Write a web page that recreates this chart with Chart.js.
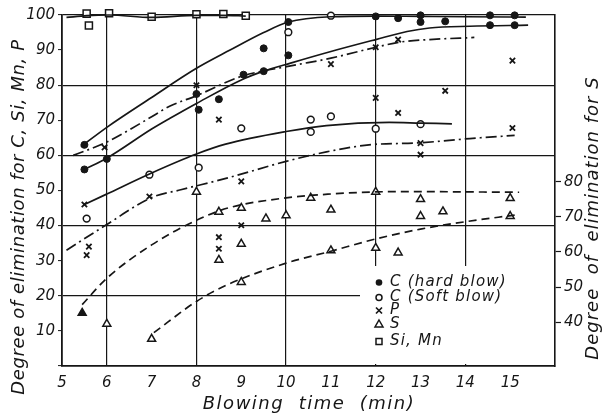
<!DOCTYPE html>
<html><head><meta charset="utf-8">
<script src="https://cdn.jsdelivr.net/npm/chart.js@4/dist/chart.umd.min.js"></script>
<style>html,body{margin:0;padding:0;background:#fff;}</style>
</head><body>
<canvas id="c" width="607" height="416"></canvas>
<script>
// ---- tick labels / grid ----
const xTickLabels = [5,6,7,8,9,10,11,12,13,14,15];
const leftTickLabels = [10,20,30,40,50,60,70,80,90,100];
const rightTickLabels = [40,50,60,70,80];
const xGridAt = [6,8,10,12,14];
const yGridAt = [20,40,60,80,100];

// ---- measured points: [blowing time (min), degree of elimination (%)] ----
const cHardPts = [[5.5,63],[5.5,56],[6.0,59],[8.0,77.5],[8.05,73],[8.5,76],[9.05,83],[9.5,90.5],[9.5,84],[10.05,98],[10.05,88.5],[12.0,99.6],[12.5,99.1],[13.0,99.9],[13.0,98],[13.55,98.2],[14.55,99.9],[14.55,97.1],[15.1,99.9],[15.1,97.1]];
const cSoftPts = [[5.55,42],[6.95,54.5],[8.05,56.5],[9.0,67.7],[10.05,95.1],[10.55,70.2],[10.55,66.7],[11.0,71.1],[11.0,99.8],[12.0,67.6],[13.0,68.9]];
const pPts = [[5.5,46],[5.6,34],[5.55,31.6],[5.95,62.3],[6.95,48.3],[8.0,80],[8.5,70.2],[8.5,36.7],[8.5,33.4],[9.0,52.6],[9.0,40.1],[11.0,86],[12.0,90.8],[12.0,76.4],[12.5,93],[12.5,72.1],[13.0,63.5],[13.0,60.2],[13.55,78.4],[15.05,87],[15.05,67.8]];
// S is read on the right-hand axis (degree of elimination for S)
const sPts = [[5.45,42.6],[6.0,39.5],[7.0,35.2],[8.0,77.1],[8.5,71.4],[8.5,57.7],[9.0,72.5],[9.0,62.3],[9.0,51.4],[9.55,69.5],[10.0,70.4],[10.55,75.4],[11.0,72.0],[11.0,60.4],[12.0,77.1],[12.0,61.1],[12.5,59.8],[13.0,75.0],[13.0,70.2],[13.5,71.5],[15.0,75.3],[15.0,70.2]];
const sFilled = [true,false,false,false,false,false,false,false,false,false,false,false,false,false,false,false,false,false,false,false,false,false];
const siMnPts = [[5.55,100.4],[5.6,97],[6.05,100.5],[7.0,99.5],[8.0,100.2],[8.6,100.3],[9.1,99.8]];

// ---- drawn trend curves ----
const cHardUpper = [[5.42,62.5],[6,68],[7,76.5],[8,84.8],[8.75,90],[9.5,95],[10.05,98],[11,99.5],[12,99.7],[13,99.6],[14,99.5],[15.35,99.4]];
const cHardLower = [[5.5,56],[6,59.2],[7,67.5],[7.4,70.5],[8,74.8],[9,81.5],[9.5,84],[10.1,86.3],[11,89.6],[12,93],[12.7,95.3],[13.2,96.3],[14.1,96.8],[15.4,97.1]];
const cSoftCurve = [[5.5,46],[6,49],[7,55],[8,60.4],[8.65,63.2],[10,66.8],[10.9,68.5],[12.3,69.4],[13,69.2],[13.7,69]];
const pUpperCurve = [[5.25,60],[6,63.8],[7,71],[7.4,74],[8,77],[9,82.5],[10.1,85.5],[11,87.7],[12,90.8],[12.55,92.3],[13.2,93],[14.2,93.6]];
const pLowerCurve = [[5.1,33],[6,40.3],[7,48],[7.65,50.2],[8.7,53.6],[10,58.3],[10.9,61],[11.85,63],[13,63.6],[14.1,64.8],[15.1,65.7]];
const sUpperCurve = [[5.45,45],[6,52.5],[7,62],[8,69],[8.7,72.5],[10,75.4],[11,76.5],[12,77.1],[13,77.2],[14,77.1],[15.2,77]];
const sLowerCurve = [[7.05,37],[8,45.9],[8.7,50.7],[10,56.8],[11,60.2],[12,63.7],[13,66.5],[14,68.6],[15.1,70.5]];
const siMnCurve = [[5.1,99.3],[5.55,99.8],[6.05,100],[7.0,99.3],[8.0,99.9],[8.6,99.9],[9.1,99.7]];

const legendItems = ['C (hard blow)','C (Soft blow)','P','S','Si, Mn'];

const INK = '#161616';
const FONT = 'DejaVu Sans';
const toXY = a => a.map(p => ({x:p[0], y:p[1]}));

function curve(data, dash, axis){
  return {type:'scatter', data:toXY(data), showLine:true, borderColor:INK, borderWidth:1.7,
    borderDash:dash, pointRadius:0, cubicInterpolationMode:'monotone', fill:false,
    yAxisID: axis || 'y', clip:false};
}
function pts(data, style, bg, radius, bw, axis){
  return {type:'scatter', data:toXY(data), showLine:false, pointStyle:style, pointRadius:radius,
    pointBackgroundColor:bg, pointBorderColor:INK, pointBorderWidth:bw, yAxisID: axis || 'y', clip:false};
}
const DASHDOT = [11,4,2,4];
const DASH = [8,5];

const maskPlugin = {
  id:'mask',
  beforeDatasetsDraw(chart){
    const c = chart.ctx; c.save(); c.fillStyle='#fff';
    c.fillRect(360, 266, 194, 98); c.restore();
  }
};

function drawSym(c, kind, x, y){
  c.save(); c.strokeStyle=INK; c.fillStyle=INK; c.lineWidth=1.5;
  if(kind===0){ c.beginPath(); c.arc(x,y,3.3,0,Math.PI*2); c.fill(); }
  else if(kind===1){ c.beginPath(); c.arc(x,y,3,0,Math.PI*2); c.stroke(); }
  else if(kind===2){ c.lineWidth=1.7; c.beginPath(); c.moveTo(x-3,y-3); c.lineTo(x+3,y+3); c.moveTo(x+3,y-3); c.lineTo(x-3,y+3); c.stroke(); }
  else if(kind===3){ c.beginPath(); c.moveTo(x,y-4); c.lineTo(x+4,y+3); c.lineTo(x-4,y+3); c.closePath(); c.stroke(); }
  else { c.strokeRect(x-3,y-3,6,6); }
  c.restore();
}

function spaced(c, px){ if ('letterSpacing' in c) c.letterSpacing = px + 'px'; }

const textPlugin = {
  id:'texts',
  afterDraw(chart){
    const c = chart.ctx; c.save(); c.fillStyle=INK;
    // legend
    const rows = [282.5, 297.5, 310.5, 324, 341.5];
    c.font = 'italic 15px "'+FONT+'"'; c.textAlign='left'; c.textBaseline='middle';
    spaced(c, 1.2);
    legendItems.forEach((t,i)=>{ drawSym(c,i,379,rows[i]); c.fillText(t, 390, rows[i]); });
    // x title
    c.font = 'italic 18px "'+FONT+'"'; c.textAlign='center'; c.textBaseline='middle';
    spaced(c, 1.5);
    c.fillText('Blowing  time  (min)', 309, 404);
    // left title
    c.save(); c.translate(19, 217); c.rotate(-Math.PI/2);
    c.font = 'italic 18px "'+FONT+'"'; spaced(c, 0.6);
    c.fillText('Degree of elimination for C, Si, Mn, P', 0, 0); c.restore();
    // right title
    c.save(); c.translate(593, 218); c.rotate(-Math.PI/2);
    c.font = 'italic 18px "'+FONT+'"'; spaced(c, 1);
    c.fillText('Degree  of  elimination for S', 0, 0); c.restore();
    c.restore();
  }
};

const tickFont = {family:FONT, size:15, style:'italic'};

new Chart(document.getElementById('c'), {
  data:{ datasets:[
    curve(siMnCurve, []),
    curve(cHardUpper, []),
    curve(cHardLower, []),
    curve(cSoftCurve, []),
    curve(pUpperCurve, DASHDOT),
    curve(pLowerCurve, DASHDOT),
    curve(sUpperCurve, DASH, 'y2'),
    curve(sLowerCurve, DASH, 'y2'),
    pts(cHardPts, 'circle', INK, 3.5, 1),
    pts(cSoftPts, 'circle', '#fff', 3.4, 1.5),
    pts(pPts, 'crossRot', INK, 3.8, 1.8),
    Object.assign(pts(sPts, 'triangle', '#fff', 4.6, 1.5, 'y2'), {pointBackgroundColor: sFilled.map(f => f ? INK : '#fff')}),
    pts(siMnPts, 'rect', '#fff', 5, 1.5)
  ]},
  options:{
    responsive:false, animation:false, devicePixelRatio:1,
    layout:{padding:{top:15, left:0, right:0, bottom:0}},
    plugins:{legend:{display:false}, tooltip:{enabled:false}},
    scales:{
      x:{type:'linear', min:5, max:16,
        afterBuildTicks: s => { s.ticks = xTickLabels.concat([16]).map(v => ({value:v})); },
        ticks:{callback: v => xTickLabels.includes(v) ? String(v) : '', font:tickFont, color:INK, padding:8, maxRotation:0, autoSkip:false},
        grid:{color: ctx => xGridAt.includes(ctx.tick && ctx.tick.value) ? INK : 'rgba(0,0,0,0)', lineWidth:1.2, drawTicks:false},
        border:{color:INK, width:1.8},
        afterFit: s => { s.height = 50; }
      },
      y:{type:'linear', position:'left', min:0, max:100,
        afterBuildTicks: s => { s.ticks = [0].concat(leftTickLabels).map(v => ({value:v})); },
        ticks:{callback: v => leftTickLabels.includes(v) ? String(v) : '', font:tickFont, color:INK, padding:3, autoSkip:false},
        grid:{color: ctx => yGridAt.includes(ctx.tick && ctx.tick.value) ? INK : 'rgba(0,0,0,0)', lineWidth:1.2, tickLength:4, tickColor:INK, tickWidth:1},
        border:{color:INK, width:1.8},
        afterFit: s => { s.width = 62; }
      },
      y2:{type:'linear', position:'right', min:27.5, max:127.5,
        afterBuildTicks: s => { s.ticks = rightTickLabels.map(v => ({value:v})); },
        ticks:{callback: v => String(v), font:tickFont, color:INK, padding:3, autoSkip:false},
        grid:{drawOnChartArea:false, tickLength:6, tickColor:INK, tickWidth:1.2},
        border:{color:INK, width:1.6},
        afterFit: s => { s.width = 52; }
      }
    }
  },
  plugins:[maskPlugin, textPlugin]
});
</script>
</body></html>
